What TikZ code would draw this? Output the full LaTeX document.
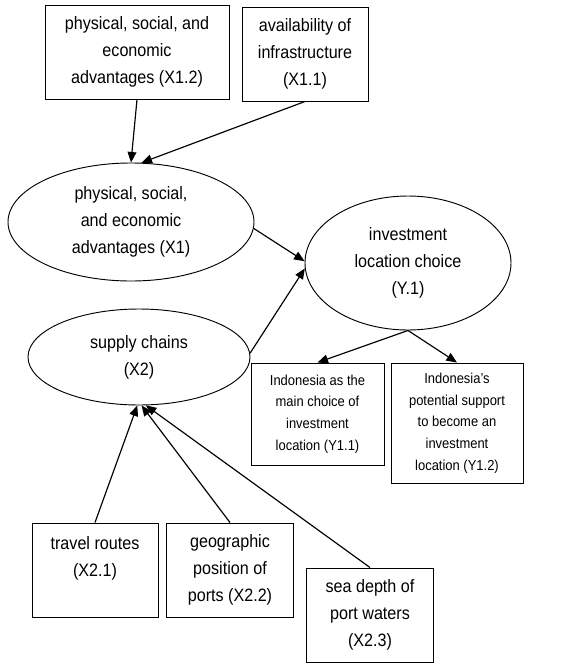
\documentclass[tikz,border=0pt]{standalone}
\usepackage{fontspec}
\setmainfont{Liberation Sans}[FakeStretch=0.9]
\usepackage{tikz}
\usetikzlibrary{shapes.geometric, arrows.meta, positioning}

\begin{document}
\begin{tikzpicture}[x=0.03cm, y=-0.03cm,
        box/.style={draw, line width=0.8pt, rectangle, inner sep=0pt, align=center,
            font=\fontsize{15.3}{23}\selectfont},
        smallbox/.style={box, font=\fontsize{12.3}{18.5}\selectfont},
        latent/.style={draw, line width=0.8pt, ellipse, inner sep=0pt, align=center,
            font=\fontsize{15.3}{23}\selectfont},
        link/.style={line width=1pt, -{Triangle[length=9pt,width=7.5pt]}}]
        \useasboundingbox (0,0) rectangle (567,663);

        % indicators of X1
        \node (x12) [box, minimum width=5.52cm, minimum height=2.82cm] at (137,52)
            {physical, social, and\\economic\\advantages (X1.2)};
        \node (x11) [box, minimum width=3.78cm, minimum height=2.82cm] at (305,54)
            {availability of\\infrastructure\\(X1.1)};

        % latent variables
        \node (x1) [latent, minimum width=7.38cm, minimum height=3.54cm] at (131,222)
            {physical, social,\\and economic\\advantages (X1)};
        \node (y) [latent, minimum width=6.18cm, minimum height=4.02cm] at (408,263)
            {investment\\location choice\\(Y.1)};
        \node (x2) [latent, minimum width=6.66cm, minimum height=2.88cm] at (139,357)
            {supply chains\\(X2)};

        % indicators of Y
        \node (y11) [smallbox, minimum width=3.99cm, minimum height=3.06cm] at (317.5,414)
            {Indonesia as the\\main choice of\\investment\\location (Y1.1)};
        \node (y12) [smallbox, minimum width=3.96cm, minimum height=3.6cm] at (457,423)
            {Indonesia's\\potential support\\to become an\\investment\\location (Y1.2)};

        % indicators of X2
        \node (x21) [box, minimum width=3.78cm, minimum height=2.82cm] at (95,570)
            {travel routes\\(X2.1)\\\mbox{}};
        \node (x22) [box, minimum width=3.81cm, minimum height=2.82cm] at (230,570)
            {geographic\\position of\\ports (X2.2)};
        \node (x23) [box, minimum width=3.81cm, minimum height=2.82cm] at (370,615)
            {sea depth of\\port waters\\(X2.3)};

        \draw[link] (x12.south) -- (x1.north);
        \draw[link] (x11.south) -- (x1.80);
        \draw[link] (x1.-3) -- (y.179);
        \draw[link] (x2.2) -- (y.183);
        \draw[link] (y.south) -- (y11.north);
        \draw[link] (y.south) -- (y12.north);
        \draw[link] (x21.north) -- (x2.-92);
        \draw[link] (x22.north) -- (x2.-87);
        \draw[link] (x23.north) -- (x2.-82);
    \end{tikzpicture}
\end{document}
